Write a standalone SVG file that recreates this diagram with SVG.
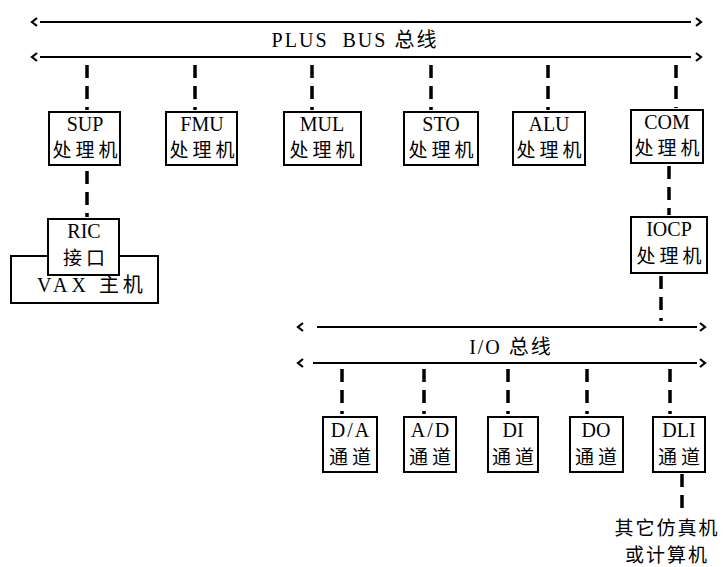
<svg xmlns="http://www.w3.org/2000/svg" width="726" height="567" viewBox="0 0 726 567">
<style>
.bus{stroke:#000;stroke-width:2;fill:none}
.chev{stroke:#000;stroke-width:2.2;fill:none}
.dash{stroke:#000;stroke-width:3.5;stroke-dasharray:13 8;fill:none}
.box{fill:#fff;stroke:#000;stroke-width:2}
.t{font-family:"Liberation Serif","Noto Sans CJK SC",serif;font-size:20px;fill:#000;text-anchor:middle}
.c{font-family:"Noto Sans CJK SC","Liberation Serif",sans-serif;font-size:19px;fill:#000;text-anchor:middle;letter-spacing:4px}
.w{letter-spacing:2px}
.o{letter-spacing:2px;font-size:19px}
</style>
<rect width="726" height="567" fill="#fff"/>
<g id="connectors">
  <g id="plus-bus">
    <line class="bus" x1="40" y1="22" x2="691" y2="22"/>
    <polyline class="chev" points="37,18 32,22 37,26"/>
    <polyline class="chev" points="696,18 701,22 696,26"/>
    <line class="bus" x1="40" y1="57" x2="691" y2="57"/>
    <polyline class="chev" points="37,53 32,57 37,61"/>
    <polyline class="chev" points="696,53 701,57 696,61"/>
  </g>
  <g id="io-bus">
    <line class="bus" x1="317" y1="327" x2="697" y2="327"/>
    <polyline class="chev" points="303,323 298,327 303,331"/>
    <polyline class="chev" points="700,323 705,327 700,331"/>
    <line class="bus" x1="313" y1="363" x2="697" y2="363"/>
    <polyline class="chev" points="303,359 298,363 303,367"/>
    <polyline class="chev" points="700,359 705,363 700,367"/>
  </g>
  <line class="dash" x1="87" y1="65" x2="87" y2="110"/>
  <line class="dash" x1="195" y1="65" x2="195" y2="110"/>
  <line class="dash" x1="312" y1="65" x2="312" y2="110"/>
  <line class="dash" x1="431" y1="65" x2="431" y2="110"/>
  <line class="dash" x1="548" y1="65" x2="548" y2="110"/>
  <line class="dash" x1="676" y1="65" x2="676" y2="108"/>
  <line class="dash" x1="87" y1="171" x2="87" y2="217"/>
  <line class="dash" x1="669" y1="166" x2="669" y2="215"/>
  <line class="dash" x1="661" y1="276" x2="661" y2="321"/>
  <line class="dash" x1="342" y1="369" x2="342" y2="414"/>
  <line class="dash" x1="424" y1="369" x2="424" y2="414"/>
  <line class="dash" x1="508" y1="369" x2="508" y2="414"/>
  <line class="dash" x1="587" y1="369" x2="587" y2="414"/>
  <line class="dash" x1="670" y1="369" x2="670" y2="414"/>
  <line class="dash" x1="682" y1="474" x2="682" y2="514"/>
</g>
<text class="t w" x="355" y="47" xml:space="preserve">PLUS  BUS <tspan font-family="Noto Sans CJK SC">总线</tspan></text>
<text class="t w" x="511" y="354">I/O <tspan font-family="Noto Sans CJK SC">总线</tspan></text>
<g id="SUP"><rect class="box" x="49" y="112" width="71" height="53"/><text class="t" x="85" y="131">SUP</text><text class="c" x="87" y="157">处理机</text></g>
<g id="FMU"><rect class="box" x="166" y="112" width="71" height="53"/><text class="t" x="202" y="131">FMU</text><text class="c" x="204" y="157">处理机</text></g>
<g id="MUL"><rect class="box" x="284" y="112" width="77" height="53"/><text class="t" x="322" y="131">MUL</text><text class="c" x="324" y="157">处理机</text></g>
<g id="STO"><rect class="box" x="404" y="112" width="74" height="53"/><text class="t" x="441" y="131">STO</text><text class="c" x="443" y="157">处理机</text></g>
<g id="ALU"><rect class="box" x="513" y="112" width="72" height="53"/><text class="t" x="549" y="131">ALU</text><text class="c" x="551" y="157">处理机</text></g>
<g id="COM"><rect class="box" x="631" y="110" width="72" height="53"/><text class="t" x="667" y="129">COM</text><text class="c" x="669" y="155">处理机</text></g>
<g id="VAX"><rect class="box" x="11" y="256" width="147" height="47"/><text class="t" x="92" y="292" letter-spacing="4" xml:space="preserve">VAX <tspan font-family="Noto Sans CJK SC">主机</tspan></text></g>
<g id="RIC"><rect class="box" x="48" y="219" width="71" height="56"/><text class="t" x="84" y="238">RIC</text><text class="c" x="86" y="265">接口</text></g>
<g id="IOCP"><rect class="box" x="631" y="217" width="76" height="56"/><text class="t" x="669" y="236">IOCP</text><text class="c" x="671" y="263">处理机</text></g>
<g id="DA"><rect class="box" x="323" y="417" width="54" height="55"/><text class="t w" x="351" y="437">D/A</text><text class="c" x="352" y="464">通道</text></g>
<g id="AD"><rect class="box" x="404" y="417" width="52" height="55"/><text class="t w" x="431" y="437">A/D</text><text class="c" x="432" y="464">通道</text></g>
<g id="DI"><rect class="box" x="488" y="417" width="50" height="55"/><text class="t" x="513" y="437">DI</text><text class="c" x="515" y="464">通道</text></g>
<g id="DO"><rect class="box" x="570" y="417" width="53" height="55"/><text class="t" x="596" y="437">DO</text><text class="c" x="598" y="464">通道</text></g>
<g id="DLI"><rect class="box" x="653" y="417" width="52" height="55"/><text class="t" x="679" y="437">DLI</text><text class="c" x="681" y="464">通道</text></g>
<g id="other"><text class="c o" x="667" y="535">其它仿真机</text><text class="c o" x="667" y="562">或计算机</text></g>
</svg>
